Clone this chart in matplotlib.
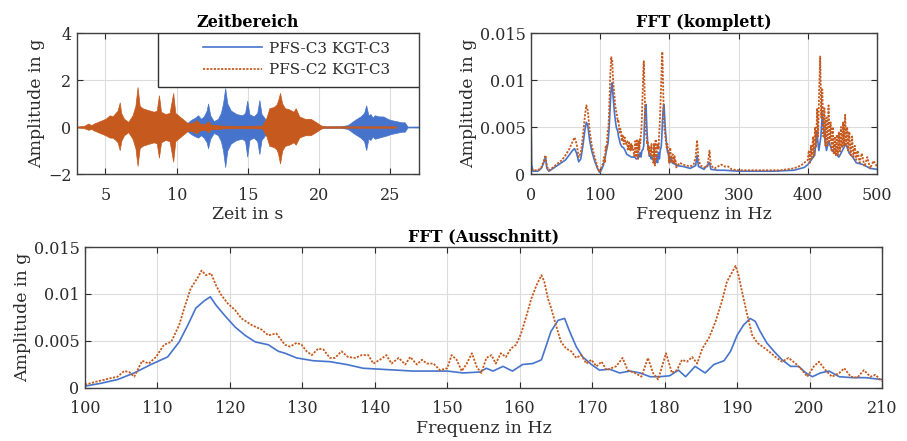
"""Zeitbereich / FFT comparison of PFS-C3 and PFS-C2."""

import numpy as np
import matplotlib
matplotlib.use('Agg')

import matplotlib.pyplot as plt
from matplotlib.lines import Line2D
from matplotlib.patches import Rectangle


BLUE = '#4674CC'
ORANGE = '#C65A1E'
LABEL_BLUE = 'PFS-C3 KGT-C3'
LABEL_ORANGE = 'PFS-C2 KGT-C3'

# time domain: envelope of the acceleration signal (s, g)
t_orange = [3.0, 3.5, 3.8, 4.0, 4.2, 4.6, 5.0, 5.3, 5.5, 5.7, 5.85, 6.0, 6.1, 6.3, 6.6,
            6.9, 7.1, 7.25, 7.4, 7.6, 8.0, 8.4, 8.6, 8.75, 8.9, 9.2, 9.5, 9.75, 9.9,
            10.2, 10.5, 10.8, 11.2, 11.4, 11.6, 12.0, 12.2, 12.4, 12.8, 13.2, 14.0,
            15.0, 16.0, 16.3, 16.5, 16.8, 17.0, 17.1, 17.25, 17.4, 17.6, 17.9, 18.2,
            18.35, 18.6, 19.0, 19.4, 19.8, 20.1, 20.3, 25.4]
orange_top = [0.02, 0.05, 0.15, 0.08, 0.15, 0.25, 0.35, 0.5, 0.45, 0.6, 0.7, 1.05, 0.6,
              0.35, 0.22, 0.5, 0.9, 1.7, 0.9, 0.8, 0.72, 0.65, 0.7, 1.35, 0.65, 0.55,
              0.6, 1.45, 0.6, 0.45, 0.3, 0.15, 0.2, 0.3, 0.15, 0.12, 0.25, 0.1, 0.08,
              0.06, 0.05, 0.05, 0.06, 0.4, 0.8, 0.85, 0.95, 1.1, 1.45, 1.0, 0.8, 0.75,
              0.65, 0.8, 0.45, 0.35, 0.35, 0.2, 0.08, 0.03, 0.03]
orange_bot = [-0.02, -0.05, -0.12, -0.08, -0.15, -0.25, -0.35, -0.45, -0.45, -0.55,
              -0.65, -0.98, -0.6, -0.35, -0.22, -0.5, -0.9, -1.65, -0.9, -0.8, -0.72,
              -0.65, -0.7, -1.3, -0.65, -0.55, -0.6, -1.47, -0.6, -0.45, -0.3, -0.15,
              -0.2, -0.28, -0.15, -0.12, -0.22, -0.1, -0.08, -0.06, -0.05, -0.05, -0.06,
              -0.4, -0.8, -0.85, -0.95, -1.1, -1.55, -1.0, -0.8, -0.75, -0.65, -0.75,
              -0.45, -0.35, -0.35, -0.2, -0.08, -0.03, -0.03]

t_blue = [10.5, 10.8, 11.0, 11.3, 11.5, 11.7, 11.9, 12.1, 12.2, 12.35, 12.6, 12.9, 13.1,
          13.25, 13.4, 13.55, 13.8, 14.2, 14.6, 14.8, 14.95, 15.1, 15.4, 15.65, 15.8,
          15.95, 16.2, 16.5, 17.0, 18.0, 20.0, 21.5, 22.0, 22.5, 22.9, 23.15, 23.3,
          23.45, 23.6, 23.75, 23.9, 24.2, 24.5, 24.8, 25.0, 25.4, 25.8, 26.0, 26.2, 27.0]
blue_top = [0.05, 0.2, 0.3, 0.4, 0.5, 0.35, 0.45, 0.7, 1.0, 0.5, 0.25, 0.35, 0.6, 1.0,
            1.65, 1.0, 0.7, 0.55, 0.5, 0.6, 1.12, 0.55, 0.45, 0.6, 1.15, 0.55, 0.35, 0.2,
            0.1, 0.05, 0.03, 0.03, 0.08, 0.3, 0.45, 0.6, 0.92, 0.5, 0.55, 0.4, 0.5, 0.45,
            0.45, 0.35, 0.3, 0.25, 0.2, 0.2, 0.02, 0.02]
blue_bot = [-0.05, -0.2, -0.3, -0.4, -0.45, -0.35, -0.45, -0.65, -0.9, -0.5, -0.25,
            -0.35, -0.6, -1.0, -1.7, -1.0, -0.7, -0.55, -0.5, -0.6, -1.26, -0.55, -0.45,
            -0.6, -1.15, -0.55, -0.35, -0.2, -0.1, -0.05, -0.03, -0.03, -0.08, -0.3,
            -0.45, -0.6, -0.98, -0.5, -0.55, -0.4, -0.5, -0.45, -0.4, -0.35, -0.3, -0.25,
            -0.2, -0.2, -0.02, -0.02]

# FFT 0 - 100 Hz
f_lo_orange = [0, 5, 10, 15, 19, 21, 23, 26, 30, 35, 40, 45, 50, 55, 60, 63, 66, 69, 72,
               75, 78, 80, 82, 85, 88, 92, 96, 99]
a_lo_orange = [0.0005, 0.0004, 0.0004, 0.0007, 0.0015, 0.002, 0.0008, 0.0004, 0.0006,
               0.0009, 0.0012, 0.0015, 0.002, 0.0026, 0.0034, 0.0039, 0.0032, 0.0018,
               0.0022, 0.004, 0.0062, 0.0073, 0.0068, 0.0045, 0.003, 0.0018, 0.0008,
               0.0002]
f_lo_blue = [0, 0.5, 1, 3, 10, 15, 19, 21, 23, 26, 30, 40, 50, 55, 60, 63, 66, 69, 72, 75,
             78, 80, 82, 85, 88, 92, 96, 99]
a_lo_blue = [0.0068, 0.004, 0.001, 0.0003, 0.0003, 0.0006, 0.0013, 0.0018, 0.0006,
             0.0003, 0.0005, 0.001, 0.0015, 0.002, 0.0025, 0.0027, 0.0022, 0.0013,
             0.0016, 0.003, 0.0047, 0.0055, 0.0052, 0.0035, 0.0024, 0.0014, 0.0006,
             0.0002]

# FFT 100 - 210 Hz (Ausschnitt)
f_mid_orange = [100.0, 101.7, 103.3, 104.5, 105.4, 106.1, 106.8, 107.9, 108.8, 109.8,
                110.9, 111.9, 113.0, 113.7, 114.6, 115.6, 116.1, 116.7, 117.4, 118.1,
                118.8, 119.7, 120.7, 121.6, 123.0, 124.4, 125.3, 126.4, 126.9, 127.6,
                128.3, 129.2, 129.9, 130.6, 131.3, 132.2, 132.9, 133.8, 134.5, 135.4,
                136.3, 137.3, 138.2, 139.1, 139.8, 140.7, 141.6, 142.3, 143.3, 144.2,
                144.9, 145.8, 146.5, 147.2, 148.1, 149.0, 150.0, 150.6, 151.3, 152.0,
                152.7, 153.4, 154.1, 154.7, 155.4, 156.1, 156.7, 157.4, 158.1, 158.8,
                159.5, 160.2, 160.9, 161.6, 162.3, 163.0, 163.4, 163.9, 164.3, 165.0,
                165.7, 166.4, 167.1, 167.8, 168.5, 169.2, 169.9, 170.6, 171.3, 172.0,
                172.6, 173.3, 174.2, 174.9, 175.9, 176.8, 177.7, 178.4, 179.1, 180.2,
                181.0, 181.7, 182.4, 183.1, 183.8, 184.5, 185.2, 186.1, 187.0, 187.9,
                188.6, 189.3, 189.8, 190.2, 190.7, 191.4, 192.1, 192.8, 193.5, 194.4,
                195.3, 196.2, 197.1, 198.1, 199.0, 199.7, 200.6, 201.3, 202.2, 203.1,
                204.1, 204.8, 205.7, 206.6, 207.5, 208.4, 209.1, 210.0]
a_mid_orange = [0.00035, 0.0007, 0.001, 0.0012, 0.0018, 0.0017, 0.0012, 0.0029, 0.0026,
                0.0033, 0.0046, 0.0049, 0.0067, 0.0085, 0.0106, 0.0118, 0.0125, 0.012,
                0.0122, 0.0109, 0.0099, 0.009, 0.0083, 0.0074, 0.0067, 0.0062, 0.0056,
                0.0058, 0.0053, 0.0046, 0.0044, 0.0048, 0.0046, 0.0039, 0.0035, 0.0042,
                0.0041, 0.0032, 0.0032, 0.0039, 0.0033, 0.0032, 0.0035, 0.0035, 0.0026,
                0.003, 0.0035, 0.0026, 0.0032, 0.0025, 0.0033, 0.0025, 0.003, 0.0026,
                0.0026, 0.0019, 0.0021, 0.0035, 0.003, 0.0018, 0.0026, 0.0037, 0.0022,
                0.0016, 0.0032, 0.0035, 0.0026, 0.0037, 0.0033, 0.0042, 0.0046, 0.0058,
                0.0076, 0.0095, 0.0109, 0.012, 0.0113, 0.0095, 0.0086, 0.0067, 0.0049,
                0.0042, 0.0039, 0.0032, 0.0035, 0.0026, 0.003, 0.0023, 0.0028, 0.0019,
                0.0021, 0.0023, 0.0032, 0.0019, 0.0016, 0.0012, 0.0032, 0.0016, 0.0009,
                0.0037, 0.0016, 0.0019, 0.003, 0.0028, 0.0033, 0.0026, 0.0042, 0.0053,
                0.007, 0.0092, 0.0113, 0.0123, 0.013, 0.012, 0.0102, 0.0078, 0.0056,
                0.0048, 0.0044, 0.0039, 0.0033, 0.0028, 0.0032, 0.0026, 0.0019, 0.0012,
                0.0023, 0.0028, 0.0019, 0.0012, 0.0016, 0.0021, 0.0012, 0.0011, 0.0019,
                0.0012, 0.0014, 0.0007]
f_mid_blue = [100.0, 102.2, 104.5, 106.8, 109.1, 111.4, 113.0, 114.2, 115.3, 116.5,
              117.3, 118.1, 119.3, 120.7, 122.1, 123.5, 125.3, 126.7, 127.6, 129.2,
              131.5, 133.8, 136.1, 138.4, 140.7, 143.0, 145.3, 147.6, 150.0, 152.2,
              154.5, 155.4, 156.3, 157.7, 159.0, 160.4, 161.8, 163.0, 163.7, 164.3,
              165.3, 166.2, 166.9, 167.8, 168.7, 169.9, 171.0, 172.4, 173.8, 175.2,
              176.6, 178.0, 179.3, 180.7, 181.9, 182.9, 184.2, 185.6, 186.8, 188.2,
              189.1, 190.0, 190.9, 191.8, 192.5, 193.2, 194.1, 195.1, 196.2, 197.4,
              198.5, 199.5, 200.4, 201.5, 202.7, 204.1, 205.9, 207.7, 210.0]
a_mid_blue = [0.0002, 0.0005, 0.0009, 0.0016, 0.0025, 0.0033, 0.0049, 0.0067, 0.0085,
              0.0093, 0.0097, 0.0088, 0.0077, 0.0065, 0.0056, 0.0049, 0.0046, 0.0039,
              0.0037, 0.0032, 0.0029, 0.0028, 0.0025, 0.0021, 0.002, 0.0019, 0.0018,
              0.0018, 0.0018, 0.0016, 0.0017, 0.0021, 0.0018, 0.0023, 0.0018, 0.0025,
              0.0026, 0.003, 0.0046, 0.006, 0.0072, 0.0074, 0.006, 0.0044, 0.0033,
              0.0025, 0.0019, 0.002, 0.0016, 0.0018, 0.0016, 0.0012, 0.0012, 0.0013,
              0.0019, 0.0012, 0.0023, 0.0016, 0.0025, 0.0029, 0.0039, 0.0056, 0.0067,
              0.0074, 0.0071, 0.006, 0.0048, 0.0039, 0.003, 0.0023, 0.0023, 0.0016,
              0.0012, 0.0016, 0.0018, 0.0012, 0.0011, 0.0011, 0.0009]

# FFT 210 - 500 Hz
f_hi_orange = [215, 220, 225, 230, 235, 238, 240, 242, 245, 250, 255, 258, 260, 265, 270,
               275, 280, 285, 290, 300, 320, 340, 360, 380, 390, 395, 400, 401.5, 403,
               404.5, 406, 407.5, 409, 410.5, 412, 413.5, 415, 416.5, 418, 419.5, 421,
               422.5, 424, 425.5, 427, 428.5, 430, 431.5, 433, 434.5, 436, 437.5, 439,
               440.5, 442, 443.5, 445, 446.5, 448, 449.5, 451, 452.5, 454, 455.5, 457,
               458.5, 460, 462, 464, 466, 468, 470, 472, 475, 478, 482, 486, 490, 495,
               500]
a_hi_orange = [0.0012, 0.001, 0.0009, 0.0008, 0.001, 0.0018, 0.0036, 0.0016, 0.0009,
               0.0007, 0.0008, 0.0025, 0.0009, 0.0006, 0.0008, 0.001, 0.0008, 0.0008,
               0.0005, 0.0004, 0.0004, 0.0004, 0.0004, 0.0006, 0.0009, 0.0012, 0.0015,
               0.0025, 0.0012, 0.003, 0.0016, 0.004, 0.002, 0.005, 0.0028, 0.007, 0.004,
               0.009, 0.0125, 0.006, 0.009, 0.004, 0.007, 0.003, 0.006, 0.003, 0.0073,
               0.0035, 0.0055, 0.0025, 0.005, 0.0022, 0.004, 0.002, 0.0042, 0.002,
               0.0045, 0.0024, 0.005, 0.0028, 0.0055, 0.003, 0.0063, 0.003, 0.005,
               0.0025, 0.0045, 0.002, 0.004, 0.0018, 0.003, 0.0015, 0.0025, 0.0012,
               0.0022, 0.0008, 0.0018, 0.0006, 0.0014, 0.0008]
f_hi_blue = [220, 230, 238, 240, 242, 250, 258, 260, 270, 280, 300, 350, 380, 395, 400,
             405, 410, 413, 416, 419, 421, 424, 427, 430, 435, 440, 445, 450, 455, 460,
             465, 470, 480, 490, 500]
a_hi_blue = [0.0008, 0.0006, 0.0009, 0.002, 0.0008, 0.0005, 0.0012, 0.0005, 0.0004,
             0.0004, 0.0003, 0.0003, 0.0004, 0.0007, 0.001, 0.0015, 0.002, 0.0045,
             0.0025, 0.004, 0.0065, 0.004, 0.0025, 0.0035, 0.0025, 0.0022, 0.0018,
             0.0025, 0.0032, 0.0022, 0.0018, 0.0012, 0.001, 0.0006, 0.0005]

plt.rcParams['font.family'] = 'DejaVu Serif'
plt.rcParams['font.size'] = 11
TEXT = '#2b2b2b'
DOTS = (1.2, 0.8)


def style_axes(ax, ylabel, xlabel, title):
    ax.grid(True, color='#dcdcdc', linewidth=0.8)
    ax.set_axisbelow(True)
    ax.tick_params(direction='in', top=True, right=True, length=4, width=0.8,
                   colors=TEXT, labelsize=11.5)
    ax.tick_params(axis='x', pad=9)
    ax.tick_params(axis='y', pad=4)
    for s in ax.spines.values():
        s.set_color('#404040')
        s.set_linewidth(1.0)
    ax.set_title(title, fontweight='bold', pad=4, fontsize=11.5)
    ax.set_xlabel(xlabel, color=TEXT, labelpad=2, fontsize=12.5)
    ax.set_ylabel(ylabel, color=TEXT, labelpad=2, fontsize=12.5)


fig = plt.figure(figsize=(9.07, 4.41), dpi=100)

# Zeitbereich
ax1 = fig.add_axes([0.0849, 0.6054, 0.377, 0.3197])
ax1.fill_between(t_blue, blue_bot, blue_top, color=BLUE, linewidth=0.5, edgecolor=BLUE)
ax1.fill_between(t_orange, orange_bot, orange_top, color=ORANGE, linewidth=0.5,
                 edgecolor=ORANGE)
ax1.set_xlim(3, 27)
ax1.set_ylim(-2, 4)
ax1.set_xticks([5, 10, 15, 20, 25])
ax1.set_yticks([-2, 0, 2, 4])
style_axes(ax1, 'Amplitude in g', 'Zeit in s', 'Zeitbereich')

# legend box like MATLAB: wide frame, entries offset to the right
ax1.add_patch(Rectangle((0.237, 0.617), 0.763, 0.383, transform=ax1.transAxes,
                        facecolor='white', edgecolor='#303030', linewidth=1.0,
                        zorder=5))
handles = [Line2D([], [], color=BLUE, lw=1.2),
           Line2D([], [], color=ORANGE, lw=1.3, dashes=DOTS)]
leg = ax1.legend(handles, [LABEL_BLUE, LABEL_ORANGE], loc='center left',
                 bbox_to_anchor=(0.368, 0.812), borderaxespad=0, borderpad=0,
                 frameon=False, handlelength=3.9, handletextpad=0.45,
                 fontsize=11, labelcolor=TEXT, labelspacing=0.5)
leg.set_zorder(6)

# FFT (komplett)
f_all_blue = f_lo_blue + f_mid_blue + f_hi_blue
a_all_blue = a_lo_blue + a_mid_blue + a_hi_blue
f_all_orange = f_lo_orange + f_mid_orange + f_hi_orange
a_all_orange = a_lo_orange + a_mid_orange + a_hi_orange

ax2 = fig.add_axes([0.5854, 0.6054, 0.3815, 0.3197])
ax2.plot(f_all_blue, a_all_blue, color=BLUE, lw=1.2)
ax2.plot(f_all_orange, a_all_orange, color=ORANGE, lw=1.3, dashes=DOTS)
ax2.set_xlim(0, 500)
ax2.set_ylim(0, 0.015)
ax2.set_xticks(np.arange(0, 501, 100))
ax2.set_yticks([0, 0.005, 0.01, 0.015])
ax2.set_yticklabels(['0', '0.005', '0.01', '0.015'])
style_axes(ax2, 'Amplitude in g', 'Frequenz in Hz', 'FFT (komplett)')

# FFT (Ausschnitt)
ax3 = fig.add_axes([0.0937, 0.1202, 0.8787, 0.3197])
ax3.plot(f_mid_blue, a_mid_blue, color=BLUE, lw=1.2)
ax3.plot(f_mid_orange, a_mid_orange, color=ORANGE, lw=1.3, dashes=DOTS)
ax3.set_xlim(100, 210)
ax3.set_ylim(0, 0.015)
ax3.set_xticks(np.arange(100, 211, 10))
ax3.set_yticks([0, 0.005, 0.01, 0.015])
ax3.set_yticklabels(['0', '0.005', '0.01', '0.015'])
style_axes(ax3, 'Amplitude in g', 'Frequenz in Hz', 'FFT (Ausschnitt)')

fig.savefig('out.png', dpi=100)
plt.close()
